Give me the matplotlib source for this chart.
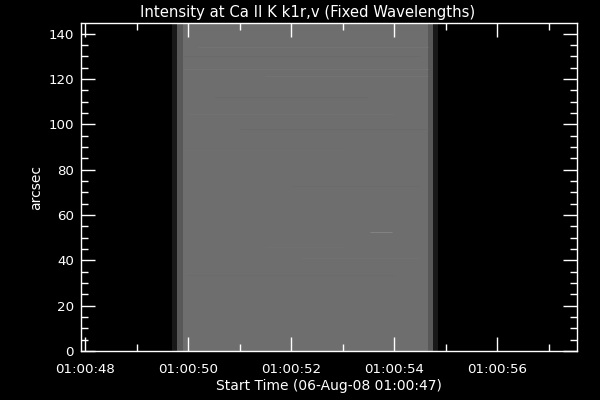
import matplotlib
matplotlib.use('Agg')
import matplotlib.pyplot as plt
from matplotlib.ticker import FuncFormatter, MultipleLocator
import numpy as np

# exposure columns: time edges (s after 01:00:00) and grey level of each column
col_edges = [47.92, 49.69, 49.79, 49.90, 54.66, 54.76, 54.85, 57.55]
col_levels = [0, 24, 88, 110, 88, 24, 0]

# faint horizontal streaks in the bright part (arcsec, grey level, start, stop)
streak_y = [134.1, 130.0, 124.4, 121.5, 112.0, 104.5, 98.0, 88.5, 73.0, 52.5, 46.0, 41.0, 33.5]
streak_level = [116, 106, 117, 115, 106, 114, 106, 113, 107, 135, 113, 114, 107]
streak_t0 = [50.2, 49.9, 49.9, 51.5, 50.5, 50.0, 51.0, 49.9, 52.0, 53.53, 51.5, 52.2, 50.0]
streak_t1 = [54.66, 54.5, 54.66, 54.66, 53.5, 54.0, 54.66, 53.0, 54.5, 53.96, 53.0, 54.5, 54.0]

y_top = 144.7
title = 'Intensity at Ca II K k1r,v (Fixed Wavelengths)'

fig = plt.figure(figsize=(6, 4), dpi=100, facecolor='black')
ax = fig.add_axes([0.135, 0.1225, 0.8267, 0.82])
ax.set_facecolor('black')

img = np.array(col_levels, dtype=float)[np.newaxis, :]
ax.pcolormesh(col_edges, [0, y_top], img, cmap='gray', vmin=0, vmax=255,
              shading='flat')
for y, lev, t0, t1 in zip(streak_y, streak_level, streak_t0, streak_t1):
    ax.hlines(y, t0, t1, colors=str(lev / 255.0), linewidth=0.6)

ax.set_xlim(col_edges[0], col_edges[-1])
ax.set_ylim(0, y_top)

ax.xaxis.set_major_locator(MultipleLocator(2))
ax.xaxis.set_minor_locator(MultipleLocator(1))
ax.yaxis.set_major_locator(MultipleLocator(20))
ax.yaxis.set_minor_locator(MultipleLocator(5))
ax.xaxis.set_major_formatter(
    FuncFormatter(lambda x, pos: '01:00:%02d' % int(round(x))))

ax.tick_params(which='both', direction='in', colors='white', top=True,
               right=True, labelsize=9.6)
ax.tick_params(which='major', length=10, width=1)
ax.tick_params(which='minor', length=5, width=1)
ax.tick_params(axis='x', pad=8.5)
ax.tick_params(axis='y', pad=5)
for s in ax.spines.values():
    s.set_color('white')
    s.set_linewidth(1)

fig.text(0.512, 0.957, title, color='white', fontsize=10.7, ha='center',
         va='baseline')
ax.set_xlabel('Start Time (06-Aug-08 01:00:47)', color='white', fontsize=10,
              labelpad=2.5)
ax.set_ylabel('arcsec', color='white', fontsize=10, labelpad=4)

fig.savefig('out.png', dpi=100, facecolor='black')
